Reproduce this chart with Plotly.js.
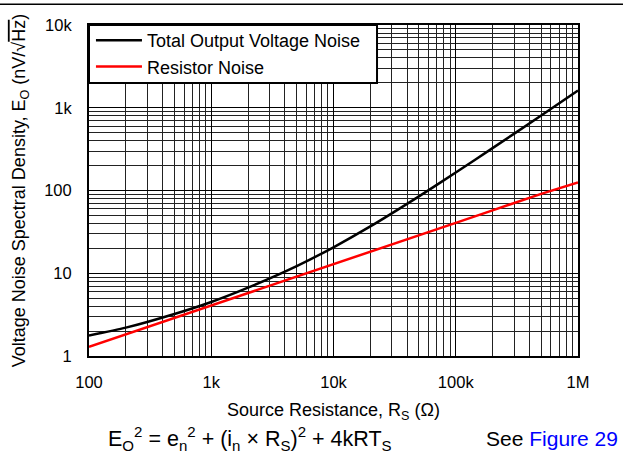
<!DOCTYPE html>
<html><head><meta charset="utf-8">
<script src="https://cdn.plot.ly/plotly-3.0.1.min.js"></script>
<style>html,body{margin:0;padding:0;background:#fff}#chart{width:623px;height:453px}</style>
</head><body><div id="chart"></div>
<script>
// Source resistance (Ohm)
const resistance = [100, 200, 500, 1000, 2000, 5000, 10000, 20000, 50000, 100000, 200000, 500000, 1000000];
// Total output voltage noise (nV/rtHz)
const totalNoise = [1.77, 2.2, 3.22, 4.5, 6.7, 12.2, 20.6, 36.8, 85, 165, 325, 805, 1620];
// Resistor noise (nV/rtHz)
const resistorNoise = [1.29, 1.82, 2.88, 4.07, 5.76, 9.1, 12.9, 18.2, 28.8, 40.7, 57.6, 91, 125];
const seriesNames = ['Total Output Voltage Noise', 'Resistor Noise'];
const xTickVals = [100, 1000, 10000, 100000, 1000000];
const xTickText = ['100', '1k', '10k', '100k', '1M'];
const yTickVals = [1, 10, 100, 1000, 10000];
const yTickText = ['1', '10', '100', '1k', '10k'];

const FONT = 'Liberation Sans, Arial, sans-serif';
const traces = [
  {x: resistance, y: totalNoise, name: seriesNames[0], mode: 'lines', line: {color: '#000000', width: 2.5, shape: 'spline', smoothing: 0.6}},
  {x: resistance, y: resistorNoise, name: seriesNames[1], mode: 'lines', line: {color: '#ff0000', width: 2.5}}
];
const axisCommon = {
  type: 'log', showline: true, mirror: true, linecolor: '#000', linewidth: 2,
  showgrid: true, gridcolor: '#000', gridwidth: 1,
  ticks: 'outside', tickcolor: 'rgba(0,0,0,0)', zeroline: false,
  tickfont: {family: FONT, size: 16.5, color: '#000'},
  minor: {showgrid: true, gridcolor: '#222', gridwidth: 1, dtick: 'D1', ticks: ''}
};
const layout = {
  width: 623, height: 453,
  margin: {l: 89, r: 45, t: 25, b: 97},
  paper_bgcolor: '#fff', plot_bgcolor: '#fff',
  font: {family: FONT, color: '#000'},
  showlegend: true,
  legend: {x: 0.004, y: 1.009, xanchor: 'left', yanchor: 'top', bgcolor: 'rgba(0,0,0,0)', borderwidth: 0,
           itemwidth: 46, font: {family: FONT, size: 18, color: '#000'}},
  xaxis: Object.assign({}, axisCommon, {
    range: [2, 6], tickvals: xTickVals, ticktext: xTickText, ticklen: 10,
    title: {text: 'Source Resistance, R<sub>S</sub> (Ω)', font: {family: FONT, size: 18, color: '#000'}, standoff: 14}
  }),
  yaxis: Object.assign({}, axisCommon, {
    range: [0, 4], tickvals: yTickVals, ticktext: yTickText, ticklen: 12,
    title: {text: 'Voltage Noise Spectral Density, E<sub>O</sub> (nV/√<span style="text-decoration:overline">Hz</span>)', font: {family: FONT, size: 18, color: '#000'}, standoff: 14}
  }),
  shapes: [
    {type: 'line', xref: 'paper', yref: 'paper', x0: -0.182, x1: 1.092, y0: 1.063, y1: 1.063, line: {color: '#000', width: 1.5}},
    {type: 'rect', xref: 'paper', yref: 'paper', layer: 'above', x0: 0, x1: 0.589, y0: 0.825, y1: 1, fillcolor: '#fff', line: {color: '#000', width: 2}}
  ],
  annotations: [
    {xref: 'paper', yref: 'paper', x: 0.035, y: -0.249, xanchor: 'left', yanchor: 'middle', showarrow: false,
     text: 'E<sub>O</sub><sup>2</sup> = e<sub>n</sub><sup>2</sup> + (i<sub>n</sub> × R<sub>S</sub>)<sup>2</sup> + 4kRT<sub>S</sub>',
     font: {family: FONT, size: 21.5, color: '#000'}},
    {xref: 'paper', yref: 'paper', x: 1.086, y: -0.249, xanchor: 'right', yanchor: 'middle', showarrow: false,
     text: 'See <span style="color:#0000ff">Figure 29</span>',
     font: {family: FONT, size: 21, color: '#000'}}
  ]
};
Plotly.newPlot('chart', traces, layout, {displayModeBar: false, staticPlot: true});
</script></body></html>
